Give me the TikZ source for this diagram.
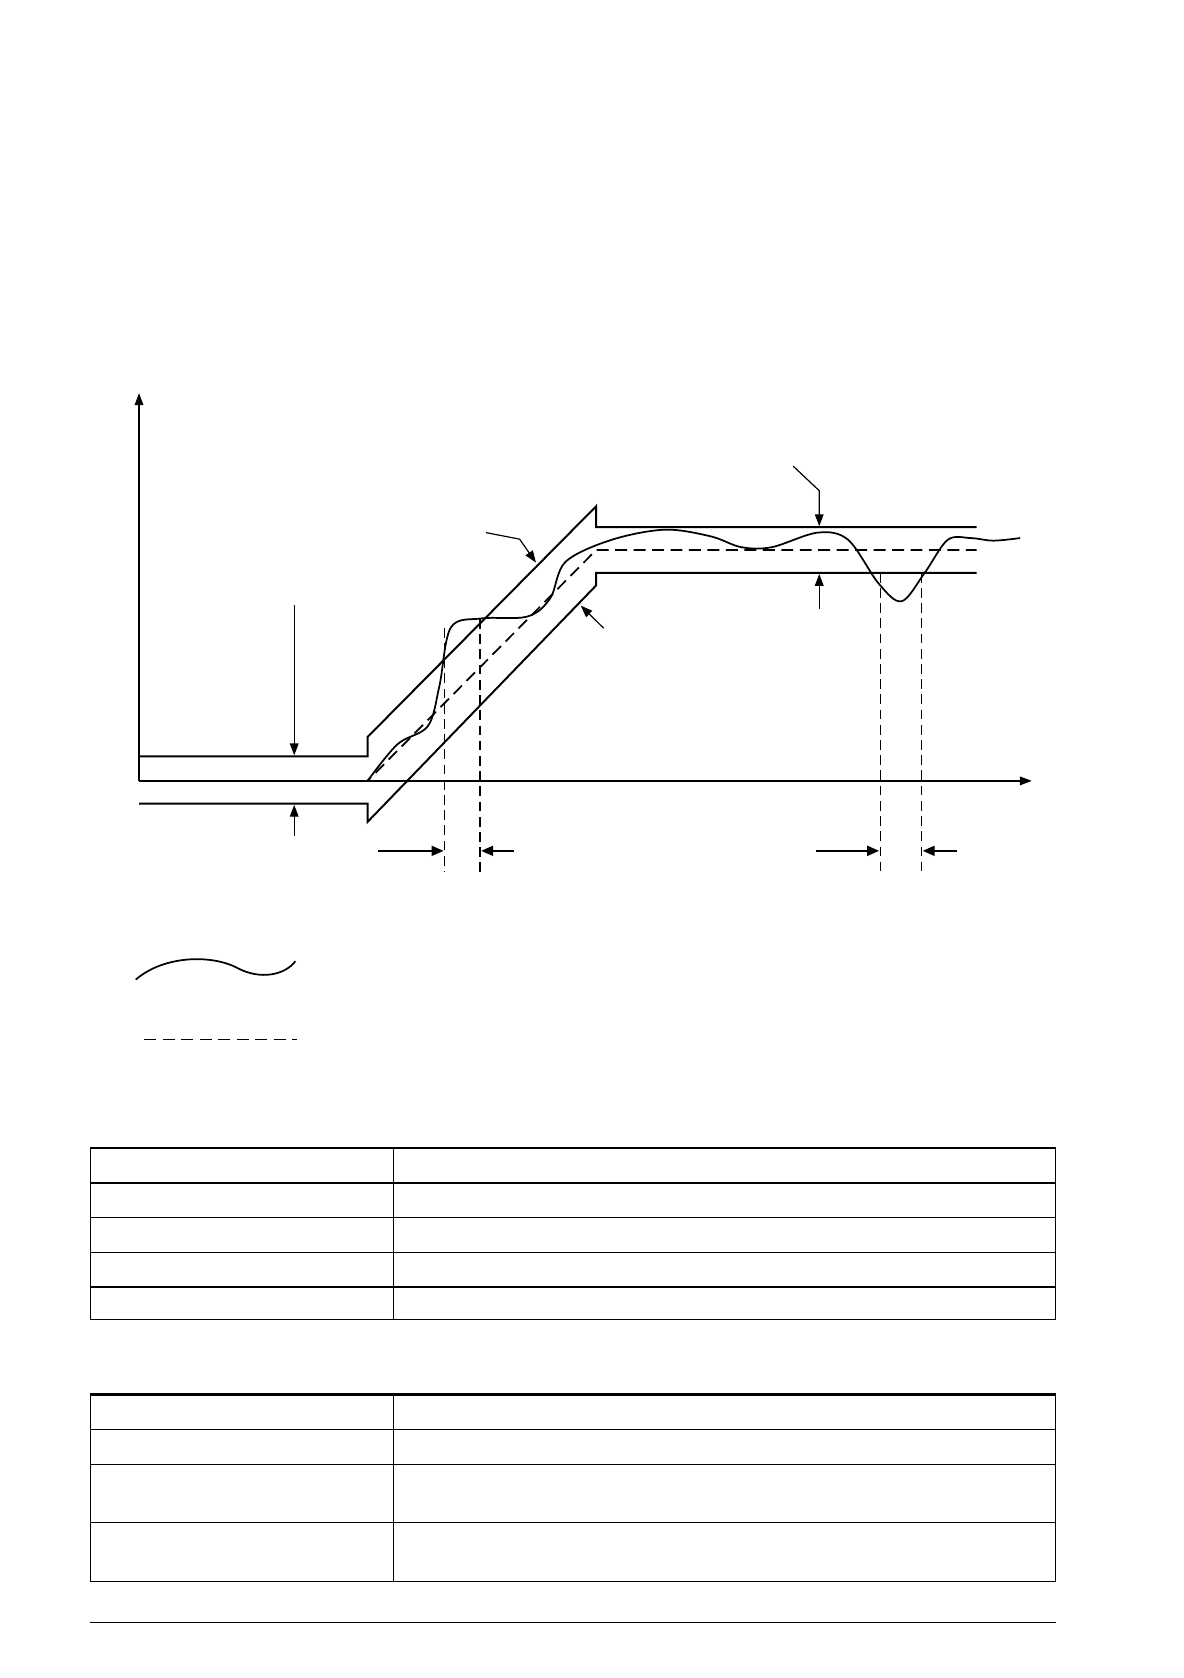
\documentclass[tikz,border=0pt]{standalone}
\usetikzlibrary{arrows.meta}
\begin{document}
\begin{tikzpicture}[x=1pt,y=-1pt,
  thinl/.style={line width=1.1pt},
  band/.style={line width=1.8pt},
  dsh/.style={line width=1.1pt,dash pattern=on 9pt off 5pt},
  cdsh/.style={line width=1.6pt,dash pattern=on 11pt off 6pt},
  arr/.style={line width=1.1pt,-{Triangle[length=11pt,width=8pt]}},
  harr/.style={line width=2pt,-{Triangle[length=11pt,width=9pt]}},
  curve/.style={line width=1.6pt},
  tline/.style={line width=1pt},
  tthick/.style={line width=2pt}]
\useasboundingbox (0,0) rectangle (1090,1545);
% axes
\coordinate (o) at (128,719);
\coordinate (ytop) at (128,362);
\coordinate (xend) at (950,719);
\draw[arr] (o) -- (ytop);
\draw[arr] (o) -- (xend);
% band upper
\draw[band] (128,696.4) -- (338.4,696.4) -- (338.4,678.6) -- (548.8,466.2) -- (548.8,485.4) -- (899.2,485.4);
% band lower
\draw[band] (128,740) -- (338.4,740) -- (338.4,756.8) -- (548.8,539.1) -- (548.8,527.4) -- (899.2,527.4);
% center dashed
\draw[cdsh] (128,719) -- (338.4,719) -- (548.8,506.5) -- (899.2,506.5);
% vertical dashed
\draw[dsh] (409.5,578) -- (409.5,803);
\draw[dsh] (441.9,570) -- (441.9,803);
\draw[dsh] (810.5,527.4) -- (810.5,803);
\draw[dsh] (848.5,527.4) -- (848.5,803);
% horizontal arrows
\coordinate (h1a) at (348.3,783.4); \coordinate (h1b) at (408.5,783.4);
\coordinate (h2a) at (473.5,783.4); \coordinate (h2b) at (443,783.4);
\coordinate (h3a) at (751.4,783.4); \coordinate (h3b) at (809.5,783.4);
\coordinate (h4a) at (880.9,783.4); \coordinate (h4b) at (849.5,783.4);
\draw[harr] (h1a) -- (h1b);
\draw[harr] (h2a) -- (h2b);
\draw[harr] (h3a) -- (h3b);
\draw[harr] (h4a) -- (h4b);
% left vertical arrows
\draw[arr] (270.9,556.9) -- (270.9,695.5);
\draw[arr] (270.9,769.3) -- (270.9,741);
% right vertical arrows
\draw[arr] (730.3,429.2) -- (754.3,451.8) -- (754.3,484.5);
\draw[arr] (754.3,560.3) -- (754.3,528.4);
% leaders to diagonals
\draw[arr] (447.5,490.4) -- (478.4,496.4) -- (493.5,518);
\draw[arr] (555.8,578.4) -- (534.7,557.6);
% measured curve
\draw[curve] plot[smooth,tension=0.55] coordinates {(338.4,719) (365.9,685.3) (394,668.5) (404.6,631.5) (415.1,577.8) (443.3,569.4) (485.5,567.7) (506.6,550.9) (520.7,517.3) (562.9,497.1) (612.1,487.7) (654.3,493.8) (682.5,503.8) (710.6,503.8) (752.9,490.4) (781,497.1) (809.1,537.4) (830.2,553.6) (851.4,527.4) (872.5,497.1) (893.6,495.4) (914.7,497.8) (939.3,495.4)};
% legend
\draw[curve] (125,902) .. controls (150,880) and (195,878) .. (220,892) .. controls (240,902) and (262,898) .. (272,885);
\draw[cdsh] (133,957) -- (273,957);
% table 1
\draw[tthick] (83,1057) -- (972,1057);
\draw[tthick] (83,1089) -- (972,1089);
\foreach \yy in {1121,1153,1185,1215} \draw[tline] (83,\yy) -- (972,\yy);
\foreach \xx in {83,362,972} \draw[tline] (\xx,1057) -- (\xx,1215);
% table 2
\draw[tthick] (83,1284) -- (972,1284);
\foreach \yy in {1316,1348,1402,1456} \draw[tline] (83,\yy) -- (972,\yy);
\foreach \xx in {83,362,972} \draw[tline] (\xx,1284) -- (\xx,1456);
% bottom rule
\draw[tline] (83,1494) -- (972,1494);
\end{tikzpicture}
\end{document}
